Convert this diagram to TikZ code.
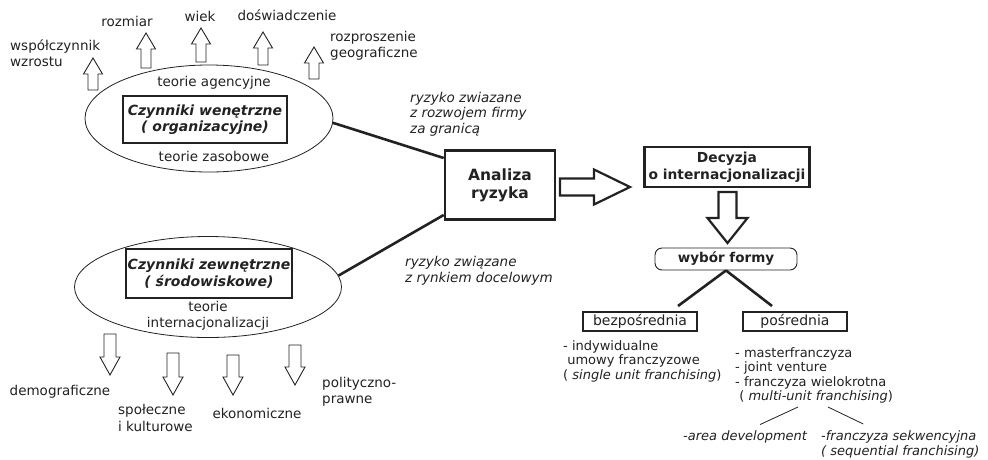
\documentclass[tikz,border=0pt]{standalone}
\usepackage{fontspec}
\setmainfont{DejaVu Sans}
\usetikzlibrary{shapes.geometric,calc}
\definecolor{ink}{HTML}{222222}
\tikzset{
  txt/.style={inner sep=0pt, text=ink, font=\fontsize{13.5}{16.5}\selectfont},
  smalltxt/.style={inner sep=0pt, text=ink, font=\fontsize{13}{14.5}\selectfont},
  itxt/.style={inner sep=0pt, text=ink, font=\fontsize{13.5}{15.5}\selectfont\itshape},
  boldbox/.style={draw=ink, line width=2.6pt, inner sep=0pt, align=center, text=ink, font=\fontsize{14}{16.5}\selectfont\bfseries\itshape},
  plainbox/.style={draw=ink, line width=2.6pt, inner sep=0pt, align=center, text=ink, font=\fontsize{13.8}{16.5}\selectfont\bfseries},
  thinbox/.style={draw=ink, line width=1.1pt, inner sep=0pt, text=ink, font=\fontsize{14}{16}\selectfont},
  ell/.style={ellipse, draw=ink, line width=0.8pt, inner sep=0pt},
  conn/.style={draw=ink, line width=2.6pt},
  thinconn/.style={draw=ink, line width=0.8pt},
  blkarr/.style={draw=ink, line width=0.9pt, fill=white, line join=miter},
  bigarr/.style={blkarr, line width=2.2pt},
}
\newcommand\blockarrow[7][]{\draw[blkarr,#1,shift={(#2)},rotate=#3] (0,-#5)--({#4-#7},-#5)--({#4-#7},-#6)--(#4,0)--({#4-#7},#6)--({#4-#7},#5)--(0,#5)--cycle;}
\begin{document}
\begin{tikzpicture}[x=1pt,y=-1pt]
\useasboundingbox (0,0) rectangle (988,459);
\fill[white] (0,0) rectangle (988,459);

% ---- upper ellipse ----
\node[ell, minimum width=248pt, minimum height=107pt] (ell1) at (209,118.5) {};
\node[boldbox, minimum width=164pt, minimum height=47pt] (box1) at (205,119.5) {Czynniki wenętrzne\\( organizacyjne)};
\node[txt] (ag) at (214,83) {teorie agencyjne};
\node[txt] (zas) at (214,156) {teorie zasobowe};

% up arrows
\blockarrow{93,90}{90}{32}{5}{9.5}{16}
\blockarrow{146,68}{90}{35}{5}{9.5}{16}
\blockarrow{201,62}{90}{34}{5}{9.5}{16}
\blockarrow{263,65}{90}{33}{5}{9.5}{16}
\blockarrow{314,79}{90}{32}{5}{9.5}{16}

\node[txt, anchor=west, align=left] (wsp) at (10,53) {współczynnik\\wzrostu};
\node[txt] (rozm) at (127,21) {rozmiar};
\node[txt] (wiek) at (200,16) {wiek};
\node[txt] (dosw) at (287,15) {doświadczenie};
\node[txt, anchor=west, align=left] (rozp) at (330,46) {rozproszenie\\geograficzne};

% ---- lower ellipse ----
\node[ell, minimum width=267pt, minimum height=101pt] (ell2) at (208,287) {};
\node[boldbox, minimum width=166pt, minimum height=49pt] (box2) at (209,273.5) {Czynniki zewnętrzne\\( środowiskowe)};
\node[txt, align=center] (tint) at (208,316) {teorie\\internacjonalizacji};

% down arrows
\blockarrow{110,334}{-90}{41}{6}{10}{18}
\blockarrow{173,353}{-90}{42}{6}{10}{18}
\blockarrow{233,355}{-90}{40}{6}{10}{18}
\blockarrow{295,345}{-90}{40}{6}{10}{18}

\node[txt] (demo) at (60,392) {demograficzne};
\node[txt, anchor=west, align=left] (spol) at (118,418) {społeczne\\i kulturowe};
\node[txt] (eko) at (257,413) {ekonomiczne};
\node[txt, anchor=west, align=left] (pol) at (322,392) {polityczno-\\prawne};

% ---- analiza ----
\node[plainbox, minimum width=110pt, minimum height=69pt, font=\fontsize{15.5}{18}\selectfont\bfseries] (ana) at (500,185) {Analiza\\ryzyka};
\draw[conn] (ell1.-2) -- ([yshift=27pt]ana.west);
\draw[conn] (ell2.5) -- ([yshift=-30pt]ana.west);
\node[itxt, anchor=west, align=left] (r1) at (410,114) {ryzyko zwiazane\\z rozwojem firmy\\za granicą};
\node[itxt, anchor=west, align=left] (r2) at (405,271) {ryzyko związane\\z rynkiem docelowym};

% big arrow
\blockarrow[bigarr]{560,187}{0}{70}{8.5}{17.5}{36}

% ---- decision ----
\node[plainbox, minimum width=165pt, minimum height=40pt] (dec) at (727,167) {Decyzja\\o internacjonalizacji};
\blockarrow[bigarr]{727.5,192}{-90}{51}{9}{20}{25}
\node[draw=ink, line width=0.9pt, rounded corners=7pt, inner sep=0pt, minimum width=142pt, minimum height=22pt, text=ink, font=\fontsize{13.5}{16}\selectfont\bfseries] (wyb) at (726,259) {wybór formy};

\node[thinbox, minimum width=114pt, minimum height=19pt] (bez) at (640,321.5) {bezpośrednia};
\node[thinbox, minimum width=104pt, minimum height=19pt] (pos) at (795,321.5) {pośrednia};
\coordinate (bezt) at (678,306);
\coordinate (post) at (772,306);
\draw[conn] (wyb.south) -- (bezt);
\draw[conn] (wyb.south) -- (post);

\node[smalltxt, anchor=north west, align=left] (bezl) at (563,340) {- indywidualne\\\ umowy franczyzowe\\( \textit{single unit franchising})};
\node[smalltxt, anchor=north west, align=left] (posl) at (735,347) {- masterfranczyza\\- joint venture\\- franczyza wielokrotna\\\ ( \textit{multi-unit franchising})};

\coordinate (m1) at (798,407);
\coordinate (m2) at (828,407);
\node[smalltxt, anchor=west, font=\fontsize{13}{14.5}\selectfont\itshape] (area) at (683,437) {-area development};
\node[smalltxt, anchor=west, align=left, font=\fontsize{13}{15}\selectfont\itshape] (sekw) at (821,444) {-franczyza sekwencyjna\\( sequential franchising)};
\draw[thinconn] (m1) -- ($(area.north)+(15,-6)$);
\draw[thinconn] (m2) -- ($(sekw.north)+(-37,-6)$);
\end{tikzpicture}
\end{document}
